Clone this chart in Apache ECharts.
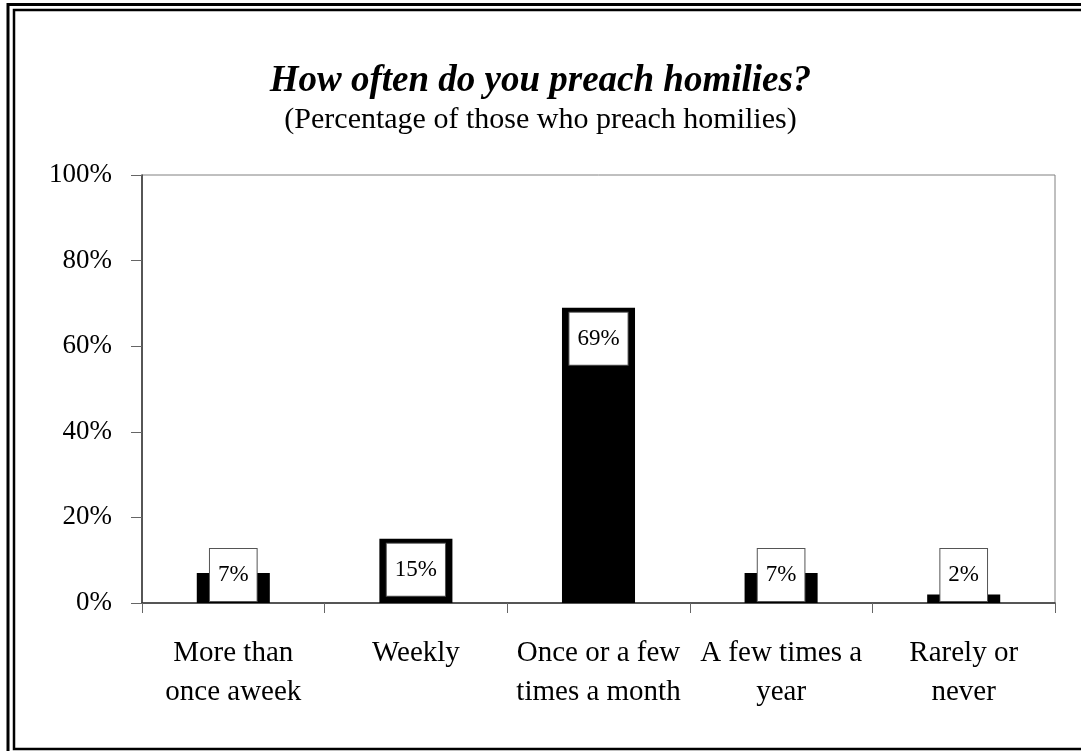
<!DOCTYPE html>
<html>
<head>
<meta charset="utf-8">
<script src="https://cdn.jsdelivr.net/npm/echarts@6/dist/echarts.min.js"></script>
<style>
  html, body { margin: 0; padding: 0; background: #fff; }
  #chart { width: 1081px; height: 751px; }
</style>
</head>
<body>
<div id="chart"></div>
<script>
// data
const categories = ['More than\nonce aweek', 'Weekly', 'Once or a few\ntimes a month', 'A few times a\nyear', 'Rarely or\nnever'];
const values = [7, 15, 69, 7, 2];
const yTicks = [0, 20, 40, 60, 80, 100];

const serif = "'Liberation Serif', 'Times New Roman', serif";

const chart = echarts.init(document.getElementById('chart'));

// small bars get the label box sitting on the axis, big ones inside the top
const barData = values.map(v => ({
  value: v,
  label: v < 12
    ? { position: 'insideBottom', distance: 2 }
    : { position: 'insideTop', distance: 5 }
}));

const option = {
  backgroundColor: '#fff',
  animation: false,
  title: [
    {
      text: 'How often do you preach homilies?',
      left: 'center',
      top: 58,
      textStyle: { fontFamily: serif, fontSize: 37, fontStyle: 'italic', fontWeight: 'bold', color: '#000' }
    },
    {
      text: '(Percentage of those who preach homilies)',
      left: 'center',
      top: 100,
      textStyle: { fontFamily: serif, fontSize: 30, fontWeight: 'normal', color: '#000' }
    }
  ],
  grid: {
    left: 142, right: 26, top: 175, bottom: 148,
    show: true, borderColor: '#808080', borderWidth: 1
  },
  xAxis: {
    type: 'category',
    data: categories,
    axisLine: { lineStyle: { color: '#333', width: 1.5 } },
    axisTick: { show: true, length: 10, lineStyle: { color: '#666' } },
    axisLabel: { color: '#000', fontFamily: serif, fontSize: 29, lineHeight: 39, margin: 31, interval: 0 }
  },
  yAxis: {
    type: 'value',
    min: 0, max: 100, interval: 20,
    axisLine: { show: true, lineStyle: { color: '#333', width: 1.5 } },
    axisTick: { show: true, length: 11, lineStyle: { color: '#666' } },
    splitLine: { show: false },
    axisLabel: {
      color: '#000', fontFamily: serif, fontSize: 27, margin: 30,
      padding: [4, 0, 0, 0],
      formatter: v => yTicks.includes(v) ? v + '%' : ''
    }
  },
  series: [{
    type: 'bar',
    data: barData,
    barWidth: '40%',
    itemStyle: { color: '#000' },
    label: {
      show: true,
      formatter: '{c}%',
      color: '#000',
      fontFamily: serif,
      fontSize: 23,
      lineHeight: 24,
      backgroundColor: '#fff',
      borderColor: '#555',
      borderWidth: 1,
      padding: [14, 8]
    }
  }],
  graphic: [
    // double frame around the chart (right side is cropped off)
    { type: 'rect', shape: { x: 8, y: 4.5, width: 1100, height: 800 },
      style: { fill: 'none', stroke: '#000', lineWidth: 3 }, z: 100 },
    { type: 'rect', shape: { x: 14, y: 10, width: 1100, height: 739 },
      style: { fill: 'none', stroke: '#000', lineWidth: 2.5 }, z: 100 }
  ]
};

chart.setOption(option);
</script>
</body>
</html>
